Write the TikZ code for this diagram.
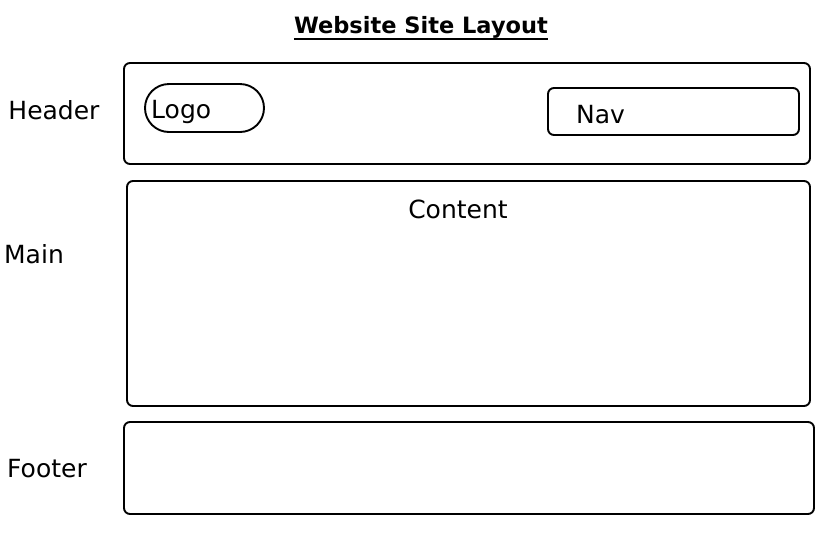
\documentclass[tikz,border=0pt]{standalone}
\usepackage{fontspec}
\setmainfont{DejaVu Sans}
\usepackage{tikz}
\usetikzlibrary{positioning}
\tikzset{
    region/.style = {rectangle, line width=1.9pt, draw=black, rounded corners=6pt, inner sep=0pt},
    pill/.style = {rectangle, line width=1.9pt, draw=black, rounded corners=24pt, inner sep=0pt},
    tag/.style = {inner sep=0pt, font=\fontsize{25}{29}\selectfont},
    heading/.style = {inner sep=0pt, font=\fontsize{22.5}{26}\selectfont\bfseries}
}
\begin{document}
\begin{tikzpicture}[x=1pt, y=-1pt]
  \useasboundingbox (0,0) rectangle (836,542);

  \node[heading, anchor=base] (title) at (421,33) {Website Site Layout};
  \draw[line width=2pt] ([yshift=-1pt]title.south west) -- ([yshift=-1pt]title.south east);

  % page regions
  \node[region, minimum width=686pt, minimum height=101pt] (header) at (467,113.5) {};
  \node[region, minimum width=683pt, minimum height=225pt] (content) at (468.5,293.5) {};
  \node[region, minimum width=690pt, minimum height=92pt] (footer) at (469,468) {};

  % inside the header
  \node[pill, minimum width=119pt, minimum height=48pt] (logo) at (204.5,108) {};
  \node[region, minimum width=251pt, minimum height=47pt] (nav) at (673.5,111.5) {};
  \node[tag, anchor=base west] (logotext) at (151,118) {Logo};
  \node[tag, anchor=base west] (navtext) at (576,123) {Nav};
  \node[tag, anchor=base] (contenttext) at (458,218) {Content};

  % side labels
  \node[tag, anchor=base] (headerlbl) at (54,119) {Header};
  \node[tag, anchor=base] (mainlbl) at (34,263) {Main};
  \node[tag, anchor=base] (footerlbl) at (47,477) {Footer};
\end{tikzpicture}
\end{document}
